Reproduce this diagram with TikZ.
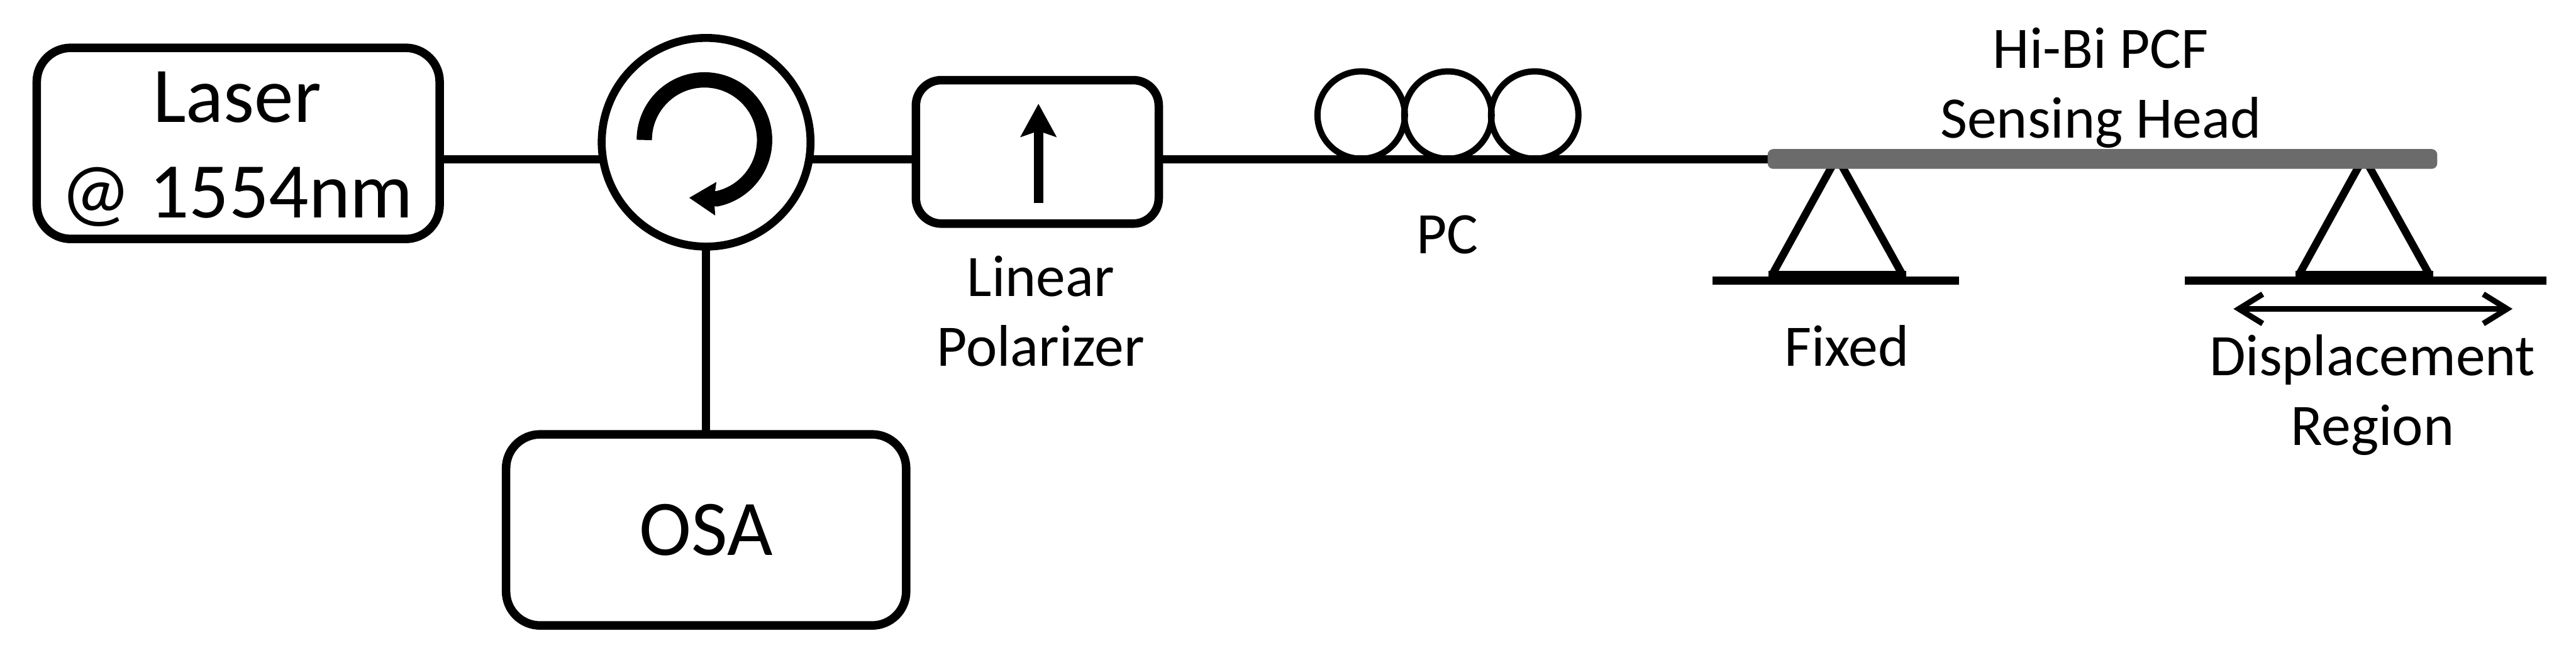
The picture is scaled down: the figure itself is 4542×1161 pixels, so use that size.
\documentclass[tikz,border=0pt]{standalone}
\usepackage{fontspec}
\setmainfont{Carlito}
\usetikzlibrary{arrows.meta,calc}
\tikzset{
  x=0.01cm,y=-0.01cm,
  wire/.style={line width=0.15cm,black},
  thinwire/.style={line width=0.14cm,black},
  devbox/.style={draw=black,line width=0.15cm,rounded corners=0.6cm,fill=white,inner sep=0pt,align=center,outer sep=0pt},
  bigtxt/.style={font=\fontsize{39.5}{47.8}\selectfont,align=center,inner sep=0pt},
  smalltxt/.style={font=\fontsize{29.5}{35}\selectfont,align=center,inner sep=0pt},
  coil/.style={circle,draw=black,line width=0.11cm,minimum size=1.54cm,inner sep=0pt,outer sep=0pt},
  support/.style={draw=black,line width=0.135cm},
  ground/.style={line width=0.15cm,black},
}
\begin{document}
\begin{tikzpicture}
\useasboundingbox (0,0) rectangle (4542,1161);
\coordinate (fibreA) at (3130,281);
\node[devbox,minimum width=7.1cm,minimum height=3.37cm] (laser) at (420,253) {};
\node[bigtxt] (lbllaser) at (418,263) {Laser\\@ 1554nm};
\node[circle,draw=black,line width=0.14cm,minimum size=3.68cm,inner sep=0pt,fill=white,outer sep=0pt] (circ) at (1245,251) {};
\node[devbox,minimum width=4.28cm,minimum height=2.53cm,rounded corners=0.45cm] (pol) at (1829,268) {};
\node[devbox,bigtxt,minimum width=7.05cm,minimum height=3.37cm] (osa) at (1245,935) {OSA};
\coordinate (lasOut) at (laser.east |- 0,281);
\coordinate (circIn) at ($(circ.center)+(-182,30)$);
\coordinate (circOut) at ($(circ.center)+(182,30)$);
\coordinate (polIn) at (pol.west |- 0,281);
\coordinate (polOut) at (pol.east |- 0,281);
\draw[wire] (lasOut) -- (circIn);
\draw[wire] (circOut) -- (polIn);
\draw[wire] (polOut) -- (fibreA);
\draw[thinwire] (circ.south) -- (osa.north);
% circulator arrow
\coordinate (arcStart) at (1136,247);
\coordinate (arcTip) at (1215,349);
\draw[line width=0.27cm,black,-{Stealth[length=0.46cm,width=0.56cm,inset=0.02cm]}]
  (arcStart) arc[start angle=180,end angle=-78,radius=1.06cm] -- (arcTip);
% polarizer arrow
\coordinate (polA) at (1831,358);
\coordinate (polB) at (1831,183);
\draw[line width=0.17cm,black,-{Stealth[length=0.58cm,width=0.62cm,inset=0.1cm]}] (polA) -- (polB);
% polarization controller
\node[coil] (c1) at (2400,203) {};
\node[coil] (c2) at (2553,203) {};
\node[coil] (c3) at (2706,203) {};
% supports
\coordinate (ap1l) at (3233,288);
\coordinate (ap1r) at (3245,288);
\coordinate (bl1) at (3125,484);
\coordinate (br1) at (3354,484);
\coordinate (ap2l) at (4162,288);
\coordinate (ap2r) at (4174,288);
\coordinate (bl2) at (4054,484);
\coordinate (br2) at (4283,484);
\draw[support] (bl1) -- (ap1l);
\draw[support] (br1) -- (ap1r);
\draw[support] (bl2) -- (ap2l);
\draw[support] (br2) -- (ap2r);
\fill[black] (3118,478) rectangle (3361,495);
\fill[black] (4047,478) rectangle (4290,495);
% sensing head
\node[draw=none,fill=black!58,rounded corners=0.1cm,minimum width=11.8cm,minimum height=0.35cm,inner sep=0pt,outer sep=0pt] (head) at (3707,280.5) {};
\coordinate (g1a) at (3020,495);
\coordinate (g1b) at (3454,495);
\coordinate (g2a) at (3852,495);
\coordinate (g2b) at (4490,495);
\draw[ground] (g1a) -- (g1b);
\draw[ground] (g2a) -- (g2b);
\coordinate (dA) at (3938,545);
\coordinate (dB) at (4430,545);
\draw[line width=0.1cm,black,{Straight Barb[length=0.42cm,width=0.52cm]}-{Straight Barb[length=0.42cm,width=0.52cm]}] (dA) -- (dB);
% labels
\node[smalltxt] (lblpol) at (1835,549) {Linear\\Polarizer};
\node[smalltxt] (lblpc) at (2552,414) {PC};
\node[smalltxt] (lblhead) at (3704,155) {Hi-Bi PCF\\Sensing Head};
\node[smalltxt] (lblfix) at (3256,610) {Fixed};
\node[smalltxt] (lbldisp) at (4183,697) {Displacement\\Region};
\end{tikzpicture}
\end{document}
